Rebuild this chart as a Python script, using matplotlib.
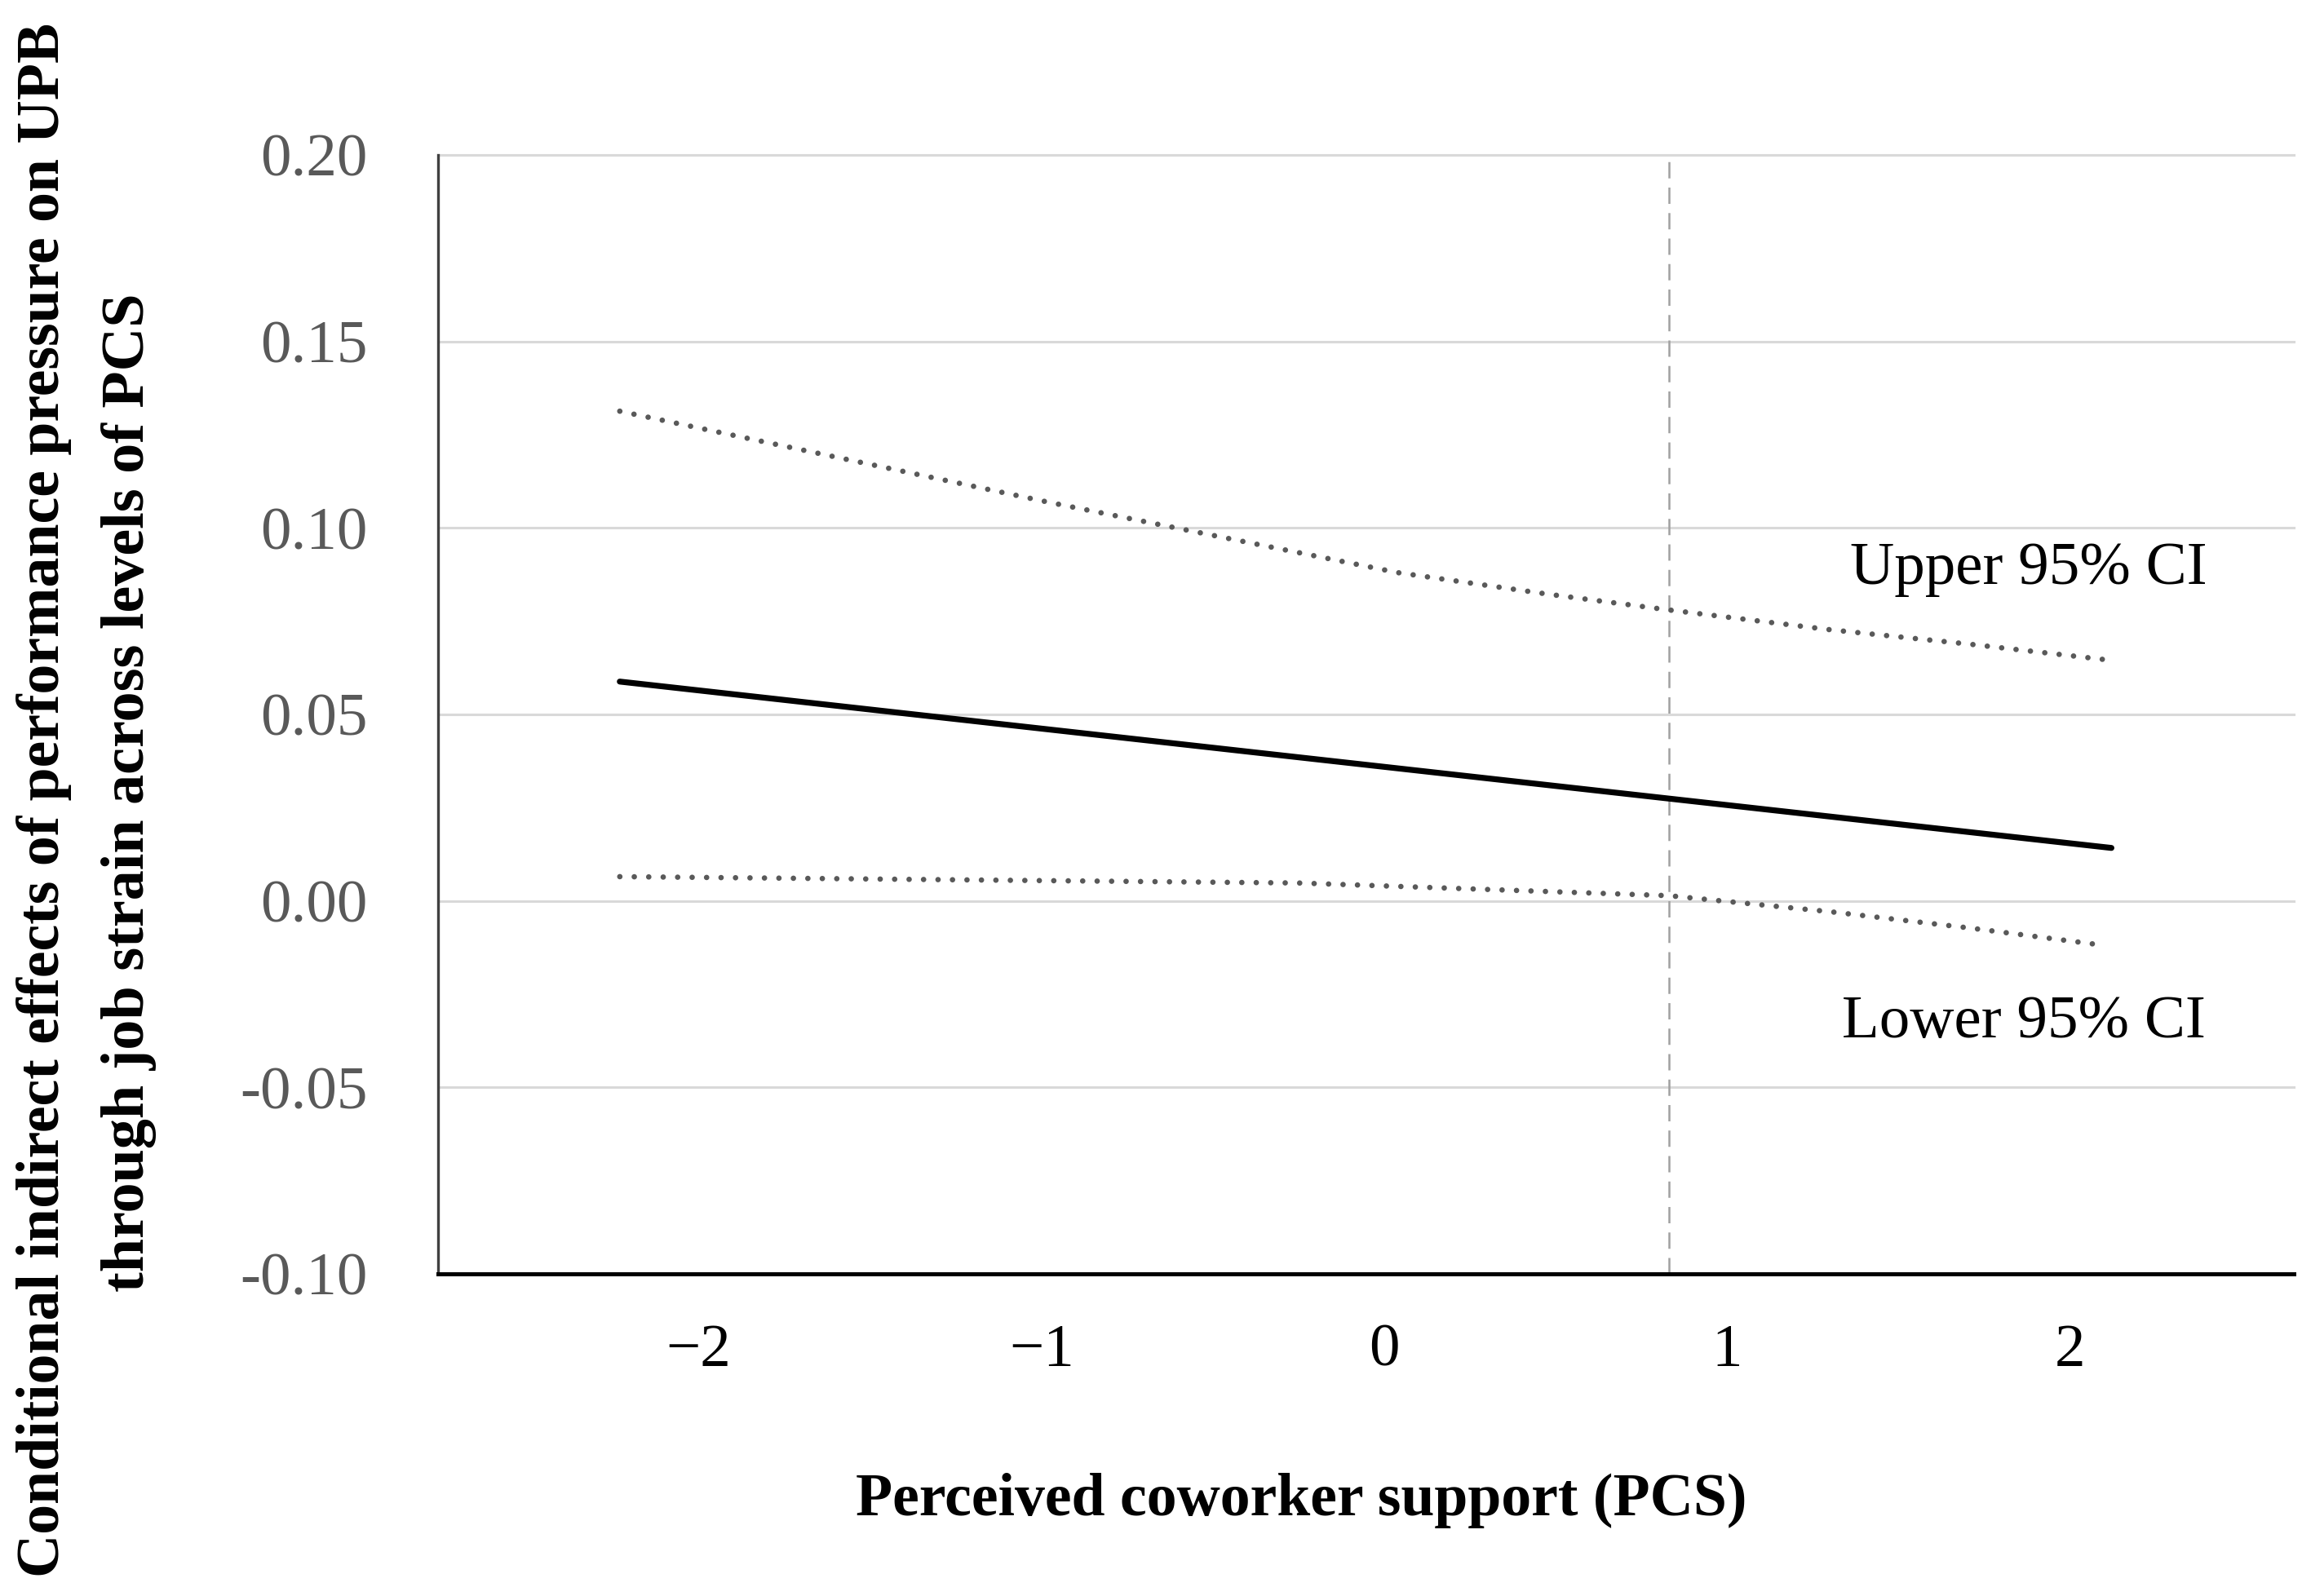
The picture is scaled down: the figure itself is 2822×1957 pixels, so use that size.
import matplotlib
matplotlib.use("Agg")
import matplotlib.pyplot as plt
import numpy as np

plt.rcParams['font.family'] = ['Liberation Serif', 'DejaVu Serif']

# ---- data ----
effect_x = [-2.23, 2.12]
effect_y = [0.0588, 0.0142]

upper_x = [-2.23, -0.98, 0.04, 0.48, 0.83, 1.30, 1.71, 2.11]
upper_y = [0.1313, 0.1069, 0.0880, 0.0822, 0.0780, 0.0727, 0.0688, 0.0646]

lower_x = [-2.23, -0.25, 0.83, 1.30, 1.71, 2.08]
lower_y = [0.0065, 0.0048, 0.0014, -0.0029, -0.0073, -0.0117]

jn_point = 0.83  # vertical reference line

x_ticks = [-2, -1, 0, 1, 2]
x_ticklabels = ['\u22122', '\u22121', '0', '1', '2']
y_ticks = [-0.10, -0.05, 0.00, 0.05, 0.10, 0.15, 0.20]
y_ticklabels = ['-0.10', '-0.05', '0.00', '0.05', '0.10', '0.15', '0.20']

W, H, DPI = 2822, 1957, 200
fig = plt.figure(figsize=(W / DPI, H / DPI), dpi=DPI)
ax = fig.add_axes([537 / W, 1 - 1562 / H, (2812 - 537) / W, (1562 - 190) / H])

ax.set_xlim(-2.760, 2.652)
ax.set_ylim(-0.10, 0.20)

# gridlines
for yv in y_ticks[1:]:
    ax.axhline(yv, color='#d9d9d9', lw=1.1, zorder=0, clip_on=False)

# vertical dashed line
ax.plot([jn_point, jn_point], [-0.10, 0.20], color='#a0a0a0', lw=0.9,
        linestyle=(0, (8, 4.5)), zorder=1)

# CI dotted lines
for xs, ys in [(upper_x, upper_y), (lower_x, lower_y)]:
    ax.plot(xs, ys, color='#595959', lw=2.4, linestyle=(0, (0.01, 2.65)),
            dash_capstyle='round', zorder=2)

# effect line
ax.plot(effect_x, effect_y, color='black', lw=2.6, solid_capstyle='round', zorder=3)

# annotations
ax.text(2.40, 0.085, 'Upper 95% CI', ha='right', va='baseline', fontsize=27, color='black')
ax.text(2.395, -0.0365, 'Lower 95% CI', ha='right', va='baseline', fontsize=27, color='black')

# spines
for s in ['top', 'right']:
    ax.spines[s].set_visible(False)
ax.spines['left'].set_color('#404040')
ax.spines['left'].set_linewidth(1.2)
ax.spines['bottom'].set_color('black')
ax.spines['bottom'].set_linewidth(1.8)

ax.set_xticks(x_ticks)
ax.set_xticklabels(x_ticklabels)
ax.set_yticks(y_ticks)
ax.set_yticklabels(y_ticklabels)
ax.tick_params(axis='both', length=0)
ax.tick_params(axis='y', pad=31, labelsize=27, labelcolor='#595959')
ax.tick_params(axis='x', pad=22, labelsize=27, labelcolor='black')

# axis titles
renderer = fig.canvas.get_renderer()

def fit_text(x, y, s, target_px, rotation=0):
    t = fig.text(x, y, s, ha='center', va='center', rotation=rotation,
                 fontsize=26, fontweight='bold', color='black')
    bb = t.get_window_extent(renderer=renderer)
    size = bb.height if rotation else bb.width
    t.set_fontsize(26 * target_px / size)
    return t

fit_text(1595 / W, 1 - 1840 / H, 'Perceived coworker support (PCS)', 1093)
fit_text(54 / W, 1 - 981 / H,
         'Conditional indirect effects of performance pressure on UPB', 1908, rotation=90)
fit_text(158 / W, 1 - 972 / H,
         'through job strain across levels of PCS', 1224, rotation=90)

fig.savefig('out.png', dpi=DPI, facecolor='white')
